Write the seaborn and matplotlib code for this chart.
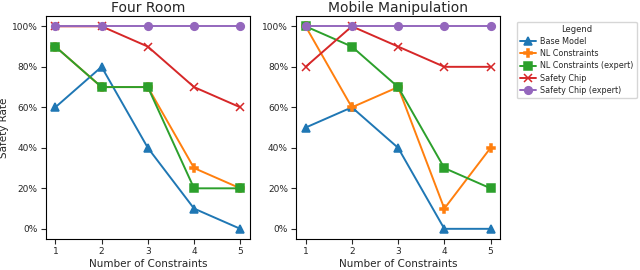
import matplotlib
matplotlib.use('Agg')
import matplotlib.pyplot as plt
import matplotlib.ticker as mticker
import seaborn as sns
import pandas as pd

sns.set_style('ticks')
plt.rcParams['font.family'] = ['DejaVu Sans']

N_CONSTRAINTS = [1, 2, 3, 4, 5]
METHODS = ['Base Model', 'NL Constraints', 'NL Constraints (expert)', 'Safety Chip', 'Safety Chip (expert)']
MARKERS = ['^', 'P', 's', 'x', 'o']
COLORS = ['#1f77b4', '#ff7f0e', '#2ca02c', '#d62728', '#9467bd']

four_room = {
    'Base Model':              [0.6, 0.8, 0.4, 0.1, 0.0],
    'NL Constraints':          [0.9, 0.7, 0.7, 0.3, 0.2],
    'NL Constraints (expert)': [0.9, 0.7, 0.7, 0.2, 0.2],
    'Safety Chip':             [1.0, 1.0, 0.9, 0.7, 0.6],
    'Safety Chip (expert)':    [1.0, 1.0, 1.0, 1.0, 1.0],
}
mobile = {
    'Base Model':              [0.5, 0.6, 0.4, 0.0, 0.0],
    'NL Constraints':          [1.0, 0.6, 0.7, 0.1, 0.4],
    'NL Constraints (expert)': [1.0, 0.9, 0.7, 0.3, 0.2],
    'Safety Chip':             [0.8, 1.0, 0.9, 0.8, 0.8],
    'Safety Chip (expert)':    [1.0, 1.0, 1.0, 1.0, 1.0],
}


def to_long(d):
    rows = []
    for m in METHODS:
        for n, v in zip(N_CONSTRAINTS, d[m]):
            rows.append((m, n, v))
    return pd.DataFrame(rows, columns=['method', 'n', 'rate'])


fig, axes = plt.subplots(1, 2, figsize=(6.4, 2.7), dpi=100)
fig.subplots_adjust(left=0.072, right=0.781, top=0.94, bottom=0.115, wspace=0.23)

for ax, data, title in zip(axes, [four_room, mobile], ['Four Room', 'Mobile Manipulation']):
    df = to_long(data)
    for m, mk, c in zip(METHODS, MARKERS, COLORS):
        sub = df[df['method'] == m]
        sns.lineplot(data=sub, x='n', y='rate', ax=ax, color=c, marker=mk,
                     markersize=5.5, linewidth=1.4, markeredgecolor=c,
                     markeredgewidth=1.1, label=m, legend=False)
    ax.set_title(title, fontsize=10, pad=3)
    ax.set_xlabel('Number of Constraints', fontsize=7.5, labelpad=2)
    ax.set_ylabel('')
    ax.set_xticks(N_CONSTRAINTS)
    ax.yaxis.set_major_formatter(mticker.PercentFormatter(1.0, decimals=0))
    ax.tick_params(labelsize=6.5, pad=2.5)
    for s in ax.spines.values():
        s.set_visible(True)
        s.set_color('black')

axes[0].set_ylabel('Safety Rate', fontsize=7.5, labelpad=2)

handles, labels = axes[0].get_legend_handles_labels()
fig.legend(handles, labels, title='Legend', loc='upper left',
           bbox_to_anchor=(0.801, 0.935), fontsize=5.8, title_fontsize=6,
           handlelength=2.0, handletextpad=0.5, labelspacing=0.4,
           borderpad=0.4, frameon=True, edgecolor='#cccccc', fancybox=True)

fig.savefig('out.png', dpi=100)
